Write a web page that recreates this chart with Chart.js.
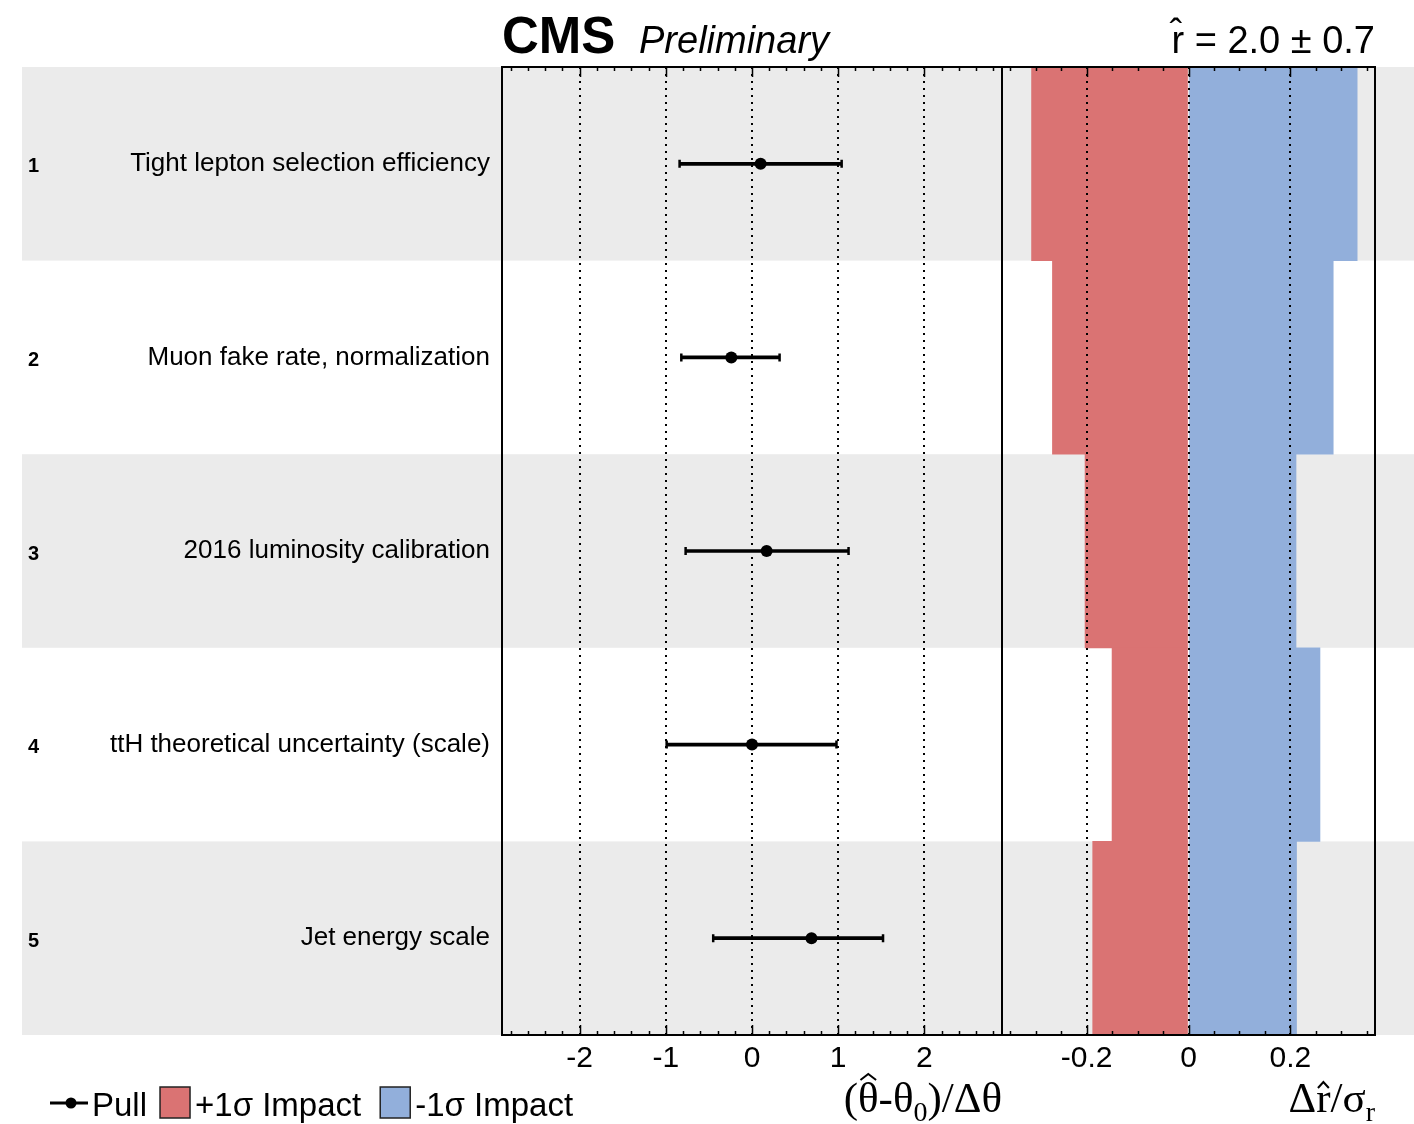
<!DOCTYPE html>
<html>
<head>
<meta charset="utf-8">
<script src="https://cdn.jsdelivr.net/npm/chart.js@4.4.1/dist/chart.umd.min.js"></script>
<style>
  html, body { margin: 0; padding: 0; background: #fff; }
  #wrap { width: 1414px; height: 1124px; }
</style>
</head>
<body>
<div id="wrap"><canvas id="myChart" width="1414" height="1124"></canvas></div>
<script>
// nuisance parameters, ranked by impact
var nuisances = [
  'Tight lepton selection efficiency',
  'Muon fake rate, normalization',
  '2016 luminosity calibration',
  'ttH theoretical uncertainty (scale)',
  'Jet energy scale'
];
var ranks = ['1', '2', '3', '4', '5'];

// pulls (theta_hat - theta_0)/dtheta with their post-fit errors
var pull   = [0.10, -0.24, 0.17, 0.00, 0.69];
var pullLo = [-0.84, -0.82, -0.77, -0.99, -0.45];
var pullHi = [1.04, 0.32, 1.12, 0.98, 1.52];

// impacts on r_hat, in units of sigma_r
var impactUp   = [-0.308, -0.267, -0.203, -0.150, -0.188];
var impactDown = [0.331, 0.284, 0.211, 0.258, 0.212];

var pullTicks   = [-2, -1, 0, 1, 2];
var impactTicks = [-0.2, 0, 0.2];

var RED = '#da7373';
var BLUE = '#92afdb';
var SANS = '"Liberation Sans", Arial, Helvetica, sans-serif';
var SERIF = '"Liberation Serif", "Times New Roman", serif';

Chart.defaults.font.family = SANS;
Chart.defaults.color = '#000';

var caps = [];
nuisances.forEach(function (n, i) {
  caps.push({x: pullLo[i], y: n});
  caps.push({x: pullHi[i], y: n});
});

function minorTicks(ctx, scale, step, majors, area) {
  var k0 = Math.ceil(scale.min / step - 1e-6), k1 = Math.floor(scale.max / step + 1e-6);
  for (var k = k0; k <= k1; k++) {
    var v = k * step;
    var major = majors.some(function (m) { return Math.abs(m - v) < step / 10; });
    var len = major ? 10 : 4;
    var px = Math.round(scale.getPixelForValue(v)) + 0.5;
    ctx.moveTo(px, area.bottom); ctx.lineTo(px, area.bottom - len);
    ctx.moveTo(px, area.top); ctx.lineTo(px, area.top + len);
  }
}

// text made of pieces (sub/superscripts, hats), right aligned at xr
function richText(ctx, parts, xr, base) {
  var w = 0;
  parts.forEach(function (p) { ctx.font = p.font; w += ctx.measureText(p.t).width; });
  var x = xr - w;
  parts.forEach(function (p) {
    ctx.font = p.font;
    var pw = ctx.measureText(p.t).width;
    ctx.fillText(p.t, x, base + (p.dy || 0));
    if (p.hat) {
      var top = base - p.hat;
      ctx.beginPath();
      ctx.moveTo(x + pw * 0.12, top + 6);
      ctx.lineTo(x + pw * 0.5, top);
      ctx.lineTo(x + pw * 0.88, top + 6);
      ctx.lineWidth = 2;
      ctx.stroke();
    }
    x += pw;
  });
}

var decor = {
  id: 'decor',
  beforeDraw: function (chart) {
    var ctx = chart.ctx, y = chart.scales.y;
    var half = Math.abs(y.getPixelForValue(1) - y.getPixelForValue(0)) / 2;
    ctx.save();
    ctx.fillStyle = '#ebebeb';
    nuisances.forEach(function (n, i) {
      if (i % 2) return;
      var c = y.getPixelForValue(i);
      ctx.fillRect(22, c - half, chart.width - 22, 2 * half);
    });
    ctx.restore();
  },
  afterDraw: function (chart) {
    var ctx = chart.ctx, a = chart.chartArea;
    var sx = chart.scales.x, sx2 = chart.scales.x2, y = chart.scales.y;
    ctx.save();

    // tick marks on top and bottom edges
    ctx.beginPath();
    ctx.strokeStyle = '#000';
    ctx.lineWidth = 1.5;
    minorTicks(ctx, sx, 0.2, pullTicks, a);
    minorTicks(ctx, sx2, 0.05, impactTicks, a);
    ctx.stroke();

    // frame and panel divider
    ctx.lineWidth = 2;
    ctx.strokeRect(a.left, a.top, a.right - a.left, a.bottom - a.top);
    ctx.beginPath();
    ctx.moveTo(sx.right, a.top);
    ctx.lineTo(sx.right, a.bottom);
    ctx.stroke();

    // rank numbers
    ctx.fillStyle = '#000';
    ctx.font = 'bold 20px ' + SANS;
    ctx.textBaseline = 'middle';
    ctx.textAlign = 'left';
    ranks.forEach(function (r, i) {
      ctx.fillText(r, 28, y.getPixelForValue(i) + 3);
    });

    // header
    ctx.textBaseline = 'alphabetic';
    ctx.font = 'bold 51px ' + SANS;
    ctx.fillText('CMS', 502, 53);
    ctx.font = 'italic 38px ' + SANS;
    ctx.fillText('Preliminary', 639, 53);
    ctx.textAlign = 'right';
    ctx.font = '38px ' + SANS;
    ctx.fillText('r\u0302 = 2.0 \u00b1 0.7', a.right, 53);
    ctx.textAlign = 'left';

    // axis titles
    var big = '43px ' + SERIF, sub = '28px ' + SERIF;
    richText(ctx, [
      {t: '(', font: big},
      {t: '\u03b8', font: big, hat: 38},
      {t: '-\u03b8', font: big},
      {t: '0', font: sub, dy: 9},
      {t: ')/\u0394\u03b8', font: big}
    ], sx.right, 1112);
    richText(ctx, [
      {t: '\u0394', font: big},
      {t: 'r', font: big, hat: 30},
      {t: '/\u03c3', font: big},
      {t: 'r', font: sub, dy: 9}
    ], a.right, 1112);

    // legend
    var ly = 1103, base = 1116, x = 50;
    ctx.font = '33px ' + SANS;
    ctx.lineWidth = 3;
    ctx.beginPath();
    ctx.moveTo(x, ly); ctx.lineTo(x + 38, ly);
    ctx.stroke();
    ctx.beginPath();
    ctx.arc(x + 21, ly, 5.5, 0, Math.PI * 2);
    ctx.fill();
    x += 42;
    ctx.fillText('Pull', x, base);
    x += ctx.measureText('Pull').width + 13;
    [[RED, '+1\u03c3 Impact'], [BLUE, '-1\u03c3 Impact']].forEach(function (it) {
      ctx.fillStyle = it[0];
      ctx.fillRect(x, 1087, 30, 31);
      ctx.lineWidth = 1.5;
      ctx.strokeStyle = '#222';
      ctx.strokeRect(x, 1087, 30, 31);
      ctx.fillStyle = '#000';
      x += 35;
      ctx.fillText(it[1], x, base);
      x += ctx.measureText(it[1]).width + 19;
    });
    ctx.restore();
  }
};

var dotted = {
  display: true,
  color: '#000',
  lineWidth: 2,
  drawTicks: false,
  z: 1
};

new Chart(document.getElementById('myChart'), {
  type: 'bar',
  data: {
    labels: nuisances,
    datasets: [
      {
        type: 'scatter',
        label: 'Pull',
        data: nuisances.map(function (n, i) { return {x: pull[i], y: n}; }),
        xAxisID: 'x', yAxisID: 'y',
        pointRadius: 6,
        pointBackgroundColor: '#000',
        pointBorderWidth: 0,
        order: 0
      },
      {
        type: 'scatter',
        label: 'caps',
        data: caps,
        xAxisID: 'x', yAxisID: 'y',
        pointStyle: 'line',
        rotation: 90,
        pointRadius: 4,
        pointBorderWidth: 2.5,
        pointBorderColor: '#000',
        order: 1
      },
      {
        label: 'Pull error',
        data: nuisances.map(function (n, i) { return [pullLo[i], pullHi[i]]; }),
        xAxisID: 'x', yAxisID: 'y',
        backgroundColor: '#000',
        barThickness: 3,
        grouped: false,
        order: 2
      },
      {
        label: '+1\u03c3 Impact',
        data: impactUp,
        xAxisID: 'x2', yAxisID: 'y',
        backgroundColor: RED,
        barPercentage: 1,
        categoryPercentage: 1,
        grouped: false,
        order: 3
      },
      {
        label: '-1\u03c3 Impact',
        data: impactDown,
        xAxisID: 'x2', yAxisID: 'y',
        backgroundColor: BLUE,
        barPercentage: 1,
        categoryPercentage: 1,
        grouped: false,
        order: 3
      }
    ]
  },
  options: {
    indexAxis: 'y',
    responsive: false,
    animation: false,
    layout: { padding: { top: 67, left: 22, right: 39, bottom: 0 } },
    plugins: {
      legend: { display: false },
      tooltip: { enabled: false },
      title: { display: false }
    },
    scales: {
      y: {
        type: 'category',
        offset: true,
        grid: { display: false, drawTicks: false },
        border: { display: false },
        ticks: { font: { size: 26 }, padding: 12, color: '#000' },
        afterFit: function (s) { s.width = 480; }
      },
      x: {
        type: 'linear',
        position: 'bottom',
        stack: 'panels',
        stackWeight: 500,
        min: -2.9,
        max: 2.9,
        grid: dotted,
        border: { display: false, dash: [2, 5] },
        afterBuildTicks: function (s) { s.ticks = pullTicks.map(function (v) { return {value: v}; }); },
        ticks: {
          font: { size: 30 }, padding: 6, autoSkip: false, maxRotation: 0,
          callback: function (v) { return String(v); }
        },
        afterFit: function (s) { s.height = 89; }
      },
      x2: {
        type: 'linear',
        position: 'bottom',
        stack: 'panels',
        stackWeight: 373,
        min: -0.366,
        max: 0.366,
        grid: dotted,
        border: { display: false, dash: [2, 5] },
        afterBuildTicks: function (s) { s.ticks = impactTicks.map(function (v) { return {value: v}; }); },
        ticks: {
          font: { size: 30 }, padding: 6, autoSkip: false, maxRotation: 0,
          callback: function (v) { return String(v); }
        },
        afterFit: function (s) { s.height = 89; }
      }
    }
  },
  plugins: [decor]
});
</script>
</body>
</html>
